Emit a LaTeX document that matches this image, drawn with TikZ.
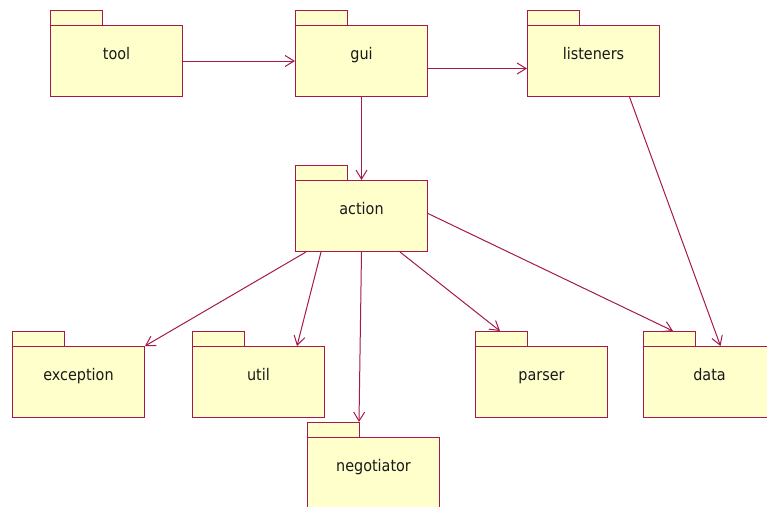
\documentclass[tikz,border=0pt]{standalone}
\usepackage{fontspec}
\setmainfont{DejaVu Sans Condensed}
\usetikzlibrary{arrows.meta}
\definecolor{pkgline}{RGB}{165,25,75}
\definecolor{pkgfill}{RGB}{255,255,204}
\definecolor{pkgtext}{RGB}{25,25,25}
\tikzset{
  pkg/.style={draw=pkgline, fill=pkgfill, line width=1pt, anchor=north west,
    inner sep=0pt, text width=132pt, align=center, text=pkgtext,
    text height=34pt, text depth=37pt, font=\fontsize{16}{16}\selectfont},
  pkgtab/.style={draw=pkgline, fill=pkgfill, line width=1pt},
  dep/.style={draw=pkgline, line width=1pt,
    -{Straight Barb[length=9pt,width=11pt,line width=1pt]}}
}
\newcommand\package[3]{%
  \node[pkg] (#1) at (#2) {#3};
  \draw[pkgtab] (#1.north west) rectangle ++(52,-15);
}
\begin{document}
\begin{tikzpicture}[x=1pt,y=-1pt]
  \useasboundingbox (0,0) rectangle (767,506);
  \clip (0,0) rectangle (767,506);

  % package folders (top-left corner of each body)
  \package{tool}{50,25}{tool}
  \package{gui}{295,25}{gui}
  \package{listeners}{527,25}{listeners}
  \package{action}{295,180}{action}
  \package{exception}{12,346}{exception}
  \package{util}{192,346}{util}
  \package{parser}{475,346}{parser}
  \package{data}{643,346}{data}
  \package{negotiator}{307,437}{negotiator}

  % dependencies
  \draw[dep] (tool.east) -- (gui.west);
  \draw[dep] ([yshift=-7.5pt]gui.east) -- ([yshift=-7.5pt]listeners.west);
  \draw[dep] (gui.south) -- (action.north);
  \draw[dep] ([xshift=36pt]listeners.south) -- ([xshift=11pt]data.north);
  \draw[dep] ([yshift=2.5pt]action.east) -- ([shift={(30pt,15pt)}]data.north west);
  \draw[dep] ([xshift=11pt]action.south west) -- (exception.north east);
  \draw[dep] ([xshift=26pt]action.south west) -- ([xshift=105pt]util.north west);
  \draw[dep] (action.south) -- ([shift={(52pt,15pt)}]negotiator.north west);
  \draw[dep] ([xshift=105pt]action.south west) -- ([shift={(25pt,15pt)}]parser.north west);
\end{tikzpicture}
\end{document}
